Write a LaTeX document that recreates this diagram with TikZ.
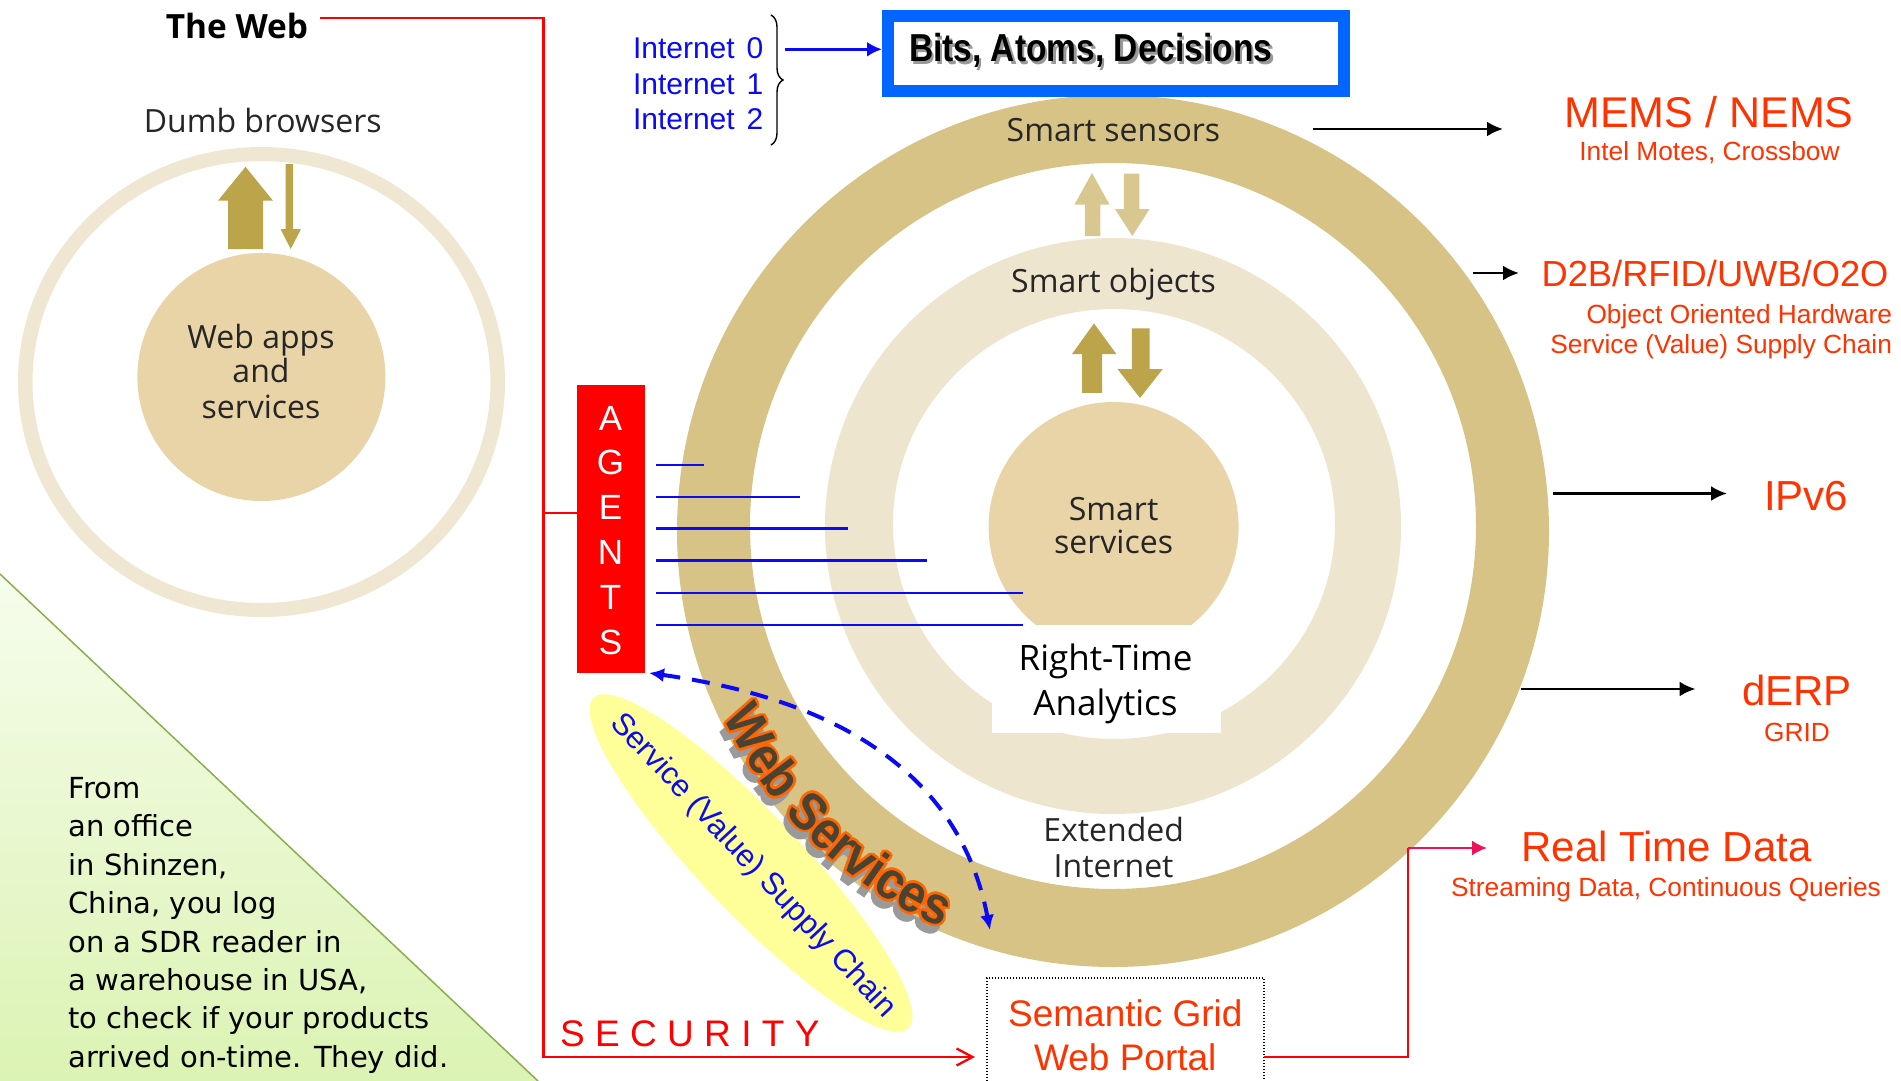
\documentclass[tikz,border=0pt]{standalone}
\usepackage{fontspec}
\usepackage{graphicx}
\setmainfont{Open Sans}
\newfontfamily\arialf{Liberation Sans}
\newfontfamily\notefont{DejaVu Sans}
\newfontfamily\wsfill{Liberation Sans}[BoldFeatures={FakeStretch=0.9}]
\newfontfamily\wsshade{Liberation Sans}[BoldFeatures={FakeStretch=0.9,FakeBold=6}]
\usetikzlibrary{arrows.meta,decorations.text,decorations.pathreplacing,shapes.geometric}

\definecolor{bandtan}{HTML}{D6C385}
\definecolor{bandlight}{HTML}{EEE5CE}
\definecolor{coretan}{HTML}{E8D4A6}
\definecolor{webring}{HTML}{EFE7D2}
\definecolor{olivedark}{HTML}{BCA44B}
\definecolor{olivepale}{HTML}{D8C88F}
\definecolor{labred}{HTML}{FF3300}
\definecolor{boxblue}{HTML}{0066FF}
\definecolor{inetblue}{HTML}{0A0AF5}
\definecolor{pinkred}{HTML}{F0105A}
\definecolor{wsdark}{HTML}{4A4331}
\definecolor{wsorange}{HTML}{FF6600}
\definecolor{wsshadow}{HTML}{9A9A9A}
\definecolor{ringink}{HTML}{262626}
\definecolor{leafedge}{HTML}{8AAE4C}
\definecolor{leaftop}{HTML}{F6FDEC}
\definecolor{leafbottom}{HTML}{DBF3B3}
\definecolor{notepad}{HTML}{FFFF99}

\begin{document}
\begin{tikzpicture}[x=1pt,y=-1pt,
  every node/.style={inner sep=0pt,outer sep=0pt},
  ringlabel/.style={text=ringink,font=\fontsize{32}{36}\selectfont,anchor=base},
  redtitle/.style={text=labred,font=\arialf\fontsize{42}{48}\selectfont,anchor=base},
  redsub/.style={text=labred,font=\arialf\fontsize{26.3}{30}\selectfont,anchor=base},
  inetlabel/.style={text=inetblue,font=\arialf\fontsize{30}{34}\selectfont,anchor=base west},
  agentletter/.style={text=white,font=\arialf\fontsize{35}{40}\selectfont,anchor=base},
  notetext/.style={text=black,font=\notefont\fontsize{29}{34}\selectfont,anchor=base west},
  portaltext/.style={text=labred,font=\arialf\fontsize{37}{42}\selectfont,anchor=base},
  blackarrow/.style={draw=black,line width=2.8pt,-{Latex[length=16pt,width=15pt]}},
  agentline/.style={draw=inetblue,line width=2.4pt},
  secline/.style={draw=red,line width=2.3pt},
  linkarrow/.style={draw=pinkred,line width=2.3pt,-{Latex[length=15pt,width=15pt]}}
]
% page
\fill[white] (0,0) rectangle (1901,1081);
\useasboundingbox (0,0) rectangle (1901,1081);

% green corner note
\shade[top color=leaftop,bottom color=leafbottom] (0,574) -- (538,1081) -- (0,1081) -- cycle;
\draw[leafedge,line width=1.5pt] (0,574) -- (538,1081);
\node[notetext] (note1) at (68.6,798.3) {From};
\node[notetext] (note2) at (68.6,836.7) {an office};
\node[notetext] (note3) at (68.6,875) {in Shinzen,};
\node[notetext] (note4) at (68.6,913.5) {China, you log};
\node[notetext] (note5) at (68.6,952) {on a SDR reader in};
\node[notetext] (note6) at (68.6,990) {a warehouse in USA,};
\node[notetext] (note7) at (68.6,1028.5) {to check if your products};
\node[notetext] (note8) at (68.6,1067) {arrived on-time. They did.};

% the web: ring, core and arrows
\fill[webring,even odd rule] (261.5,382) ellipse[x radius=243.5,y radius=235]
  (261.5,382) ellipse[x radius=229,y radius=221];
\node[circle,fill=coretan,minimum size=248pt] (webcore) at (261.4,377) {};
\fill[olivedark] (228,249) -- (228,200.7) -- (218,200.7) -- (245.5,166.8) -- (273,200.7)
  -- (263,200.7) -- (263,249) -- cycle;
\fill[olivedark] (285.6,164) -- (293,164) -- (293,229) -- (301,229) -- (290.7,249)
  -- (280.5,229) -- (285.6,229) -- cycle;
\node[anchor=base,text=black,font=\bfseries\fontsize{33.4}{38}\selectfont] (theweb) at (237,38.6) {The Web};
\node[ringlabel] (browsers) at (262.7,132.8) {Dumb browsers};
\node[ringlabel] (webapps1) at (261,348.8) {Web apps};
\node[ringlabel] (webapps2) at (261,382.7) {and};
\node[ringlabel] (webapps3) at (261,418.4) {services};

% extended internet rings
\fill[bandtan,even odd rule] (1113,531) circle[radius=436] (1113,526) circle[radius=363];
\fill[bandlight,even odd rule] (1113,526) circle[radius=288]
  (1114,524) ellipse[x radius=221,y radius=215];
\node[circle,fill=coretan,minimum size=250pt] (core) at (1113.6,527) {};
\node[fill=white,minimum width=229pt,minimum height=108pt] (rtbox) at (1106.5,679) {};

% ring-to-ring arrows
\fill[olivepale] (1084.8,236) -- (1084.8,204.5) -- (1074.5,204.5) -- (1092,173) -- (1109.5,204.5)
  -- (1100.3,204.5) -- (1100.3,236) -- cycle;
\fill[olivepale] (1123.8,173.7) -- (1139.3,173.7) -- (1139.3,209) -- (1149.6,209) -- (1132.3,236)
  -- (1115,209) -- (1123.8,209) -- cycle;
\fill[olivedark] (1082,392.8) -- (1082,354) -- (1072,354) -- (1094,323.4) -- (1116.3,354)
  -- (1102,354) -- (1102,392.8) -- cycle;
\fill[olivedark] (1131.8,328.4) -- (1149.6,328.4) -- (1149.6,369) -- (1162.8,369) -- (1140,398)
  -- (1117.5,369) -- (1131.8,369) -- cycle;

\node[ringlabel] (sensors) at (1113.5,141.5) {Smart sensors};
\node[ringlabel] (objects) at (1113.5,292.5) {Smart objects};
\node[ringlabel] (services1) at (1113.6,520) {Smart};
\node[ringlabel] (services2) at (1113.6,553.3) {services};
\node[ringlabel] (extended1) at (1113.6,841.7) {Extended};
\node[ringlabel] (extended2) at (1113.6,877.3) {Internet};
\node[ringlabel,text=black,font=\fontsize{35}{40}\selectfont] (rt1) at (1105.5,670) {Right-Time};
\node[ringlabel,text=black,font=\fontsize{35}{40}\selectfont] (rt2) at (1105.5,715) {Analytics};

% bits, atoms, decisions
\node[draw=boxblue,line width=11.7pt,fill=white,minimum width=456pt,minimum height=75pt] (bits) at (1116,53.5) {};
\node[anchor=base west,text=black!40,font=\arialf\bfseries\fontsize{39}{44}\selectfont] (bitsshadow) at (911.5,64)
  {\scalebox{0.86}[1]{Bits, Atoms, Decisions}};
\node[anchor=base west,text=black,font=\arialf\bfseries\fontsize{39}{44}\selectfont] (bitslabel) at (909,61.7)
  {\scalebox{0.86}[1]{Bits, Atoms, Decisions}};

\node[inetlabel] (inet0) at (633,58.3) {Internet\hspace{12pt}0};
\node[inetlabel] (inet1) at (633,94) {Internet\hspace{12pt}1};
\node[inetlabel] (inet2) at (633,129) {Internet\hspace{12pt}2};
\coordinate (braceTop) at (771,15);
\coordinate (braceBot) at (771,145);
\draw[decorate,decoration={brace,amplitude=12pt},line width=1.4pt] (braceTop) -- (braceBot);
\coordinate (inetTap) at (785,49.3);
\draw[draw=inetblue,line width=2.8pt,-{Latex[length=15pt,width=15pt]},shorten >=6pt] (inetTap) -- (bits.west |- inetTap);

% agents
\node[fill=red,minimum width=67.8pt,minimum height=287.7pt] (agents) at (610.9,528.8) {};
\node[agentletter] (agA) at (610.5,430.5) {A};
\node[agentletter] (agG) at (610.5,474.5) {G};
\node[agentletter] (agE) at (610.5,519) {E};
\node[agentletter] (agN) at (610.5,564) {N};
\node[agentletter] (agT) at (610.5,609) {T};
\node[agentletter] (agS) at (610.5,654) {S};
\foreach \yy/\xx in {465/704,497/800,528.4/848,560.5/927,592.7/1023,624.8/1023}
  \draw[agentline] (656,\yy) -- (\xx,\yy);

% service supply chain
\node[ellipse,fill=notepad,minimum width=456pt,minimum height=100pt,rotate=-46.4] (chain) at (751,863) {};
\node[rotate=-47,text=inetblue,font=\arialf\fontsize{31}{36}\selectfont] (chaintext) at (753,866)
  {Service (Value) Supply Chain};

% web services dashed link
\coordinate (wsStart) at (649,673);
\coordinate (wsEnd) at (990,930);
\draw[draw=inetblue,line width=4pt,dash pattern=on 18pt off 12pt,
  {Latex[length=15pt,width=14pt]}-{Latex[length=15pt,width=14pt]}]
  (wsStart) .. controls (848,701) and (961,780) .. (wsEnd);

% web services lettering on the outer band: shadow, orange rim, dark face
\path[decorate,decoration={text along path,text align=center,
  text={|\wsshade\bfseries\fontsize{53}{54}\selectfont\color{wsshadow}|Web Services}}]
  (1108,539) ++(164:432) arc[start angle=164,end angle=104,radius=432];
\foreach \dx/\dy in {2.6/0,-2.6/0,0/2.6,0/-2.6,1.85/1.85,1.85/-1.85,-1.85/1.85,-1.85/-1.85}
  \path[decorate,decoration={text along path,text align=center,
    text={|\wsfill\bfseries\fontsize{53}{54}\selectfont\color{wsorange}|Web Services}}]
    (1113+\dx,531+\dy) ++(164:432) arc[start angle=164,end angle=104,radius=432];
\path[decorate,decoration={text along path,text align=center,
  text={|\wsfill\bfseries\fontsize{53}{54}\selectfont\color{wsdark}|Web Services}}]
  (1113,531) ++(164:432) arc[start angle=164,end angle=104,radius=432];

% right-hand labels
\node[redtitle,font=\arialf\fontsize{43}{48}\selectfont] (mems) at (1709,127.4) {MEMS / NEMS};
\node[redsub] (motes) at (1709.5,160.5) {Intel Motes, Crossbow};
\node[redtitle,font=\arialf\fontsize{36.3}{42}\selectfont] (d2b) at (1715,286.7) {D2B/RFID/UWB/O2O};
\node[redsub,anchor=base east] (oohw) at (1892,323.3) {Object Oriented Hardware};
\node[redsub,anchor=base east] (svsc) at (1892,353.3) {Service (Value) Supply Chain};
\node[redtitle] (ipv6) at (1806,510) {IPv6};
\node[redtitle] (derp) at (1797,705) {dERP};
\node[redsub] (grid) at (1797,741.7) {GRID};
\node[redtitle] (rtd) at (1666.6,861.7) {Real Time Data};
\node[redsub] (streaming) at (1666,896.7) {Streaming Data, Continuous Queries};

\coordinate (ssTap) at (1313,129);   \coordinate (ssTip) at (1503,129);
\coordinate (soTap) at (1473,273);   \coordinate (soTip) at (1519,273);
\coordinate (ipTap) at (1553,493.5); \coordinate (ipTip) at (1727,493.5);
\coordinate (erTap) at (1521,689);   \coordinate (erTip) at (1695.6,689);
\draw[blackarrow] (ssTap) -- (ssTip);
\draw[blackarrow] (soTap) -- (soTip);
\draw[blackarrow] (ipTap) -- (ipTip);
\draw[blackarrow] (erTap) -- (erTip);

% semantic grid portal
\node[draw=black,line width=1.3pt,dash pattern=on 1.3pt off 1.7pt,minimum width=277pt,minimum height=160pt] (portal) at (1125.5,1058) {};
\node[portaltext] (portal1) at (1125.3,1026) {Semantic Grid};
\node[portaltext] (portal2) at (1125.3,1070) {Web Portal};

% security trunk
\node[anchor=base west,text=red,font=\arialf\fontsize{37}{40}\selectfont\addfontfeature{LetterSpace=28}] (security) at (560,1046.7) {SECURITY};
\coordinate (webtap) at (320,18);
\coordinate (trunkTop) at (543.5,18);
\coordinate (trunkMid) at (543.5,513);
\coordinate (trunkBot) at (543.5,1057);
\draw[secline,-{Straight Barb[length=16pt,width=17pt]},shorten >=12pt]
  (webtap) -- (trunkTop) -- (trunkBot) -- (portal.west |- trunkBot);
\draw[secline] (trunkMid) -- (agents.west |- trunkMid);

% portal to real time data
\coordinate (rtdCorner) at (1408,848);
\coordinate (rtdTip) at (1487,848);
\draw[secline] (portal.east |- trunkBot) -| (rtdCorner);
\draw[linkarrow] (rtdCorner) -- (rtdTip);
\end{tikzpicture}
\end{document}
